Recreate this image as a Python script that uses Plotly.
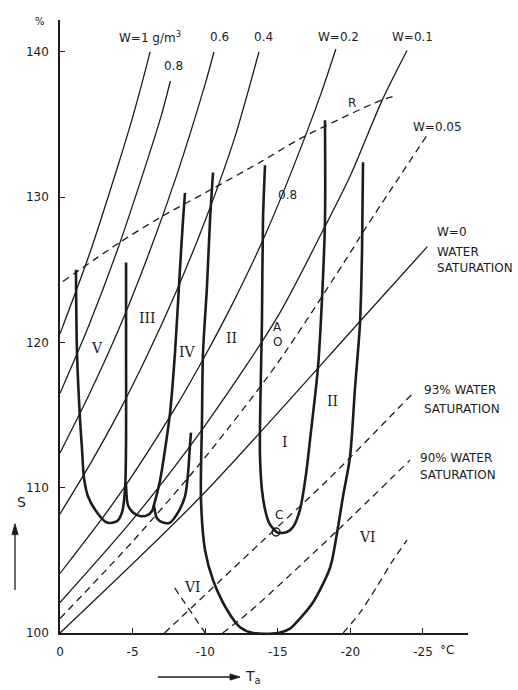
import plotly.graph_objects as go

FONT = "DejaVu Sans"
INK = "#1c1c1c"

# Lines of constant W (g/m3): temperature (deg C) vs supersaturation over ice (%)
w1_t = [0, -2, -4, -5, -6, -6.2]
w1_s = [120.6, 126.0, 132.2, 135.5, 139.2, 140.0]
w08_t = [0, -2, -4, -6, -7, -7.6]
w08_s = [116.5, 121.2, 126.5, 132.5, 135.7, 138.0]
w06_t = [0, -2, -4, -6, -8, -10, -10.6]
w06_s = [112.4, 116.4, 120.8, 125.8, 131.4, 137.8, 140.0]
w04_t = [0, -2, -4, -6, -8, -10, -12, -13.7]
w04_s = [108.2, 111.5, 115.1, 119.1, 123.5, 128.4, 134.0, 140.0]
w02_t = [0, -4, -8, -10, -12, -14, -16, -18, -19]
w02_s = [104.1, 109.4, 115.6, 119.1, 122.9, 127.1, 131.9, 137.2, 140.2]
w01_t = [0, -5, -10, -15, -18, -20, -22.2, -23.9]
w01_s = [102.1, 107.8, 114.3, 121.8, 127.5, 131.5, 136.7, 140.1]
w005_t = [0, -5, -10, -15, -20, -21, -25.3]
w005_s = [101.0, 106.3, 112.1, 118.6, 126.2, 127.8, 134.3]
w0_t = [0, -9.8, -20.7, -25.3]
w0_s = [100.0, 109.5, 121.5, 126.6]

# Fractions of water saturation
sat93_t = [-7.2, -13.8, -18.4, -24.3]
sat93_s = [100.0, 106.2, 110.5, 116.5]
sat90_t = [-11.2, -13.1, -19.15, -24.1]
sat90_s = [100.0, 101.5, 107.1, 111.9]

# Other dashed boundaries
r_t = [-0.2, -4.13, -6.89, -10.54, -13.77, -16.67, -22.18, -23.21]
r_s = [124.2, 126.9, 128.6, 130.6, 132.4, 134.1, 136.7, 137.0]
vi_left_t = [-7.9, -10.0]
vi_left_s = [103.1, 100.0]
vi_right_t = [-19.5, -20.66, -21.83, -22.93, -23.9]
vi_right_s = [100.0, 101.4, 103.2, 105.0, 106.4]

# Habit boundaries (heavy curves)
hab_a_t = [-1.10, -1.17, -1.38, -1.52, -1.65, -1.93, -2.55, -3.24, -3.93, -4.27, -4.48, -4.55, -4.55, -4.55]
hab_a_s = [125.0, 119.3, 114.7, 112.6, 110.7, 109.4, 108.3, 107.6, 107.7, 108.3, 109.9, 113.3, 119.5, 125.5]
hab_b_t = [-4.55, -4.68, -5.03, -5.51, -5.99, -6.34, -6.47, -6.89, -7.23, -7.58, -7.92, -8.26, -8.47, -8.61]
hab_b_s = [110.2, 108.8, 108.3, 108.05, 108.1, 108.4, 108.8, 110.5, 112.6, 115.15, 119.3, 125.0, 128.4, 130.3]
hab_c_t = [-6.47, -6.68, -7.09, -7.58, -8.13, -8.61, -8.82, -8.95, -9.02]
hab_c_s = [108.8, 107.9, 107.6, 107.6, 108.3, 109.4, 111.0, 112.9, 113.8]
hab_d_t = [-10.54, -10.33, -10.12, -9.85, -9.78, -9.71, -9.99, -10.54, -11.50, -12.40, -13.29,
           -15.01, -15.84, -16.53, -17.42, -18.60, -19.08, -19.49, -19.97, -20.32, -20.66, -20.80, -20.87]
hab_d_s = [131.7, 128.4, 123.8, 119.3, 114.7, 109.2, 105.7, 103.65, 101.6, 100.4, 100.0,
           100.0, 100.3, 101.0, 102.1, 104.5, 106.9, 109.4, 112.1, 116.9, 121.3, 126.2, 132.4]
hab_e_t = [-14.12, -13.98, -13.91, -13.77, -13.91, -14.12, -14.39, -14.67, -15.01, -15.63, -16.05,
           -16.53, -16.94, -17.22, -17.77, -18.04, -18.25, -18.25]
hab_e_s = [132.2, 128.4, 121.6, 112.4, 109.85, 108.5, 107.6, 107.2, 106.9, 106.95, 107.3,
           108.5, 110.9, 113.3, 118.3, 122.9, 128.4, 135.3]
point_c_t = [-14.88]
point_c_s = [106.95]

x_ticks = [0, -5, -10, -15, -20, -25]
x_tick_text = ["0", "-5", "-10", "-15", "-20", "-25"]
y_ticks = [100, 110, 120, 130, 140]
y_tick_text = ["100", "110", "120", "130", "140"]

fig = go.Figure()


def curve(t, s, width=1.3, dash=None, shape="spline"):
    line = dict(color=INK, width=width, shape=shape)
    if shape == "spline":
        line["smoothing"] = 0.8
    if dash:
        line["dash"] = dash
    fig.add_trace(go.Scatter(x=t, y=s, mode="lines", line=line, hoverinfo="skip", showlegend=False))


for t, s in [(w1_t, w1_s), (w08_t, w08_s), (w06_t, w06_s), (w04_t, w04_s),
             (w02_t, w02_s), (w01_t, w01_s), (w0_t, w0_s)]:
    curve(t, s)

DASH = "7px,5px"
curve(w005_t, w005_s, dash=DASH)
curve(sat93_t, sat93_s, dash=DASH)
curve(sat90_t, sat90_s, dash=DASH)
curve(r_t, r_s, dash=DASH)
curve(vi_left_t, vi_left_s, dash=DASH, shape="linear")
curve(vi_right_t, vi_right_s, dash=DASH)

for t, s in [(hab_a_t, hab_a_s), (hab_b_t, hab_b_s), (hab_c_t, hab_c_s),
             (hab_d_t, hab_d_s), (hab_e_t, hab_e_s)]:
    curve(t, s, width=2.6)

fig.add_trace(go.Scatter(x=point_c_t, y=point_c_s, mode="markers",
                         marker=dict(symbol="circle-open", size=8, color=INK, line=dict(width=1.4)),
                         hoverinfo="skip", showlegend=False))

TXT = dict(family=FONT, size=12, color=INK)
ROMAN = dict(family="DejaVu Serif", size=14, color=INK)

labels = [
    (-6.2, 141.0, "W=1 g/m<sup>3</sup>", TXT, "center"),
    (-7.8, 139.0, "0.8", TXT, "center"),
    (-11.0, 141.0, "0.6", TXT, "center"),
    (-14.0, 141.0, "0.4", TXT, "center"),
    (-19.15, 141.0, "W=0.2", TXT, "center"),
    (-24.25, 141.0, "W=0.1", TXT, "center"),
    (-20.1, 136.5, "R", TXT, "center"),
    (-26.0, 134.85, "W=0.05", TXT, "center"),
    (-15.7, 130.15, "0.8", TXT, "center"),
    (-25.8, 127.6, "W=0", TXT, "left"),
    (-25.8, 126.2, "WATER", TXT, "left"),
    (-25.8, 125.15, "SATURATION", TXT, "left"),
    (-24.9, 116.7, "93% WATER", TXT, "left"),
    (-24.9, 115.4, "SATURATION", TXT, "left"),
    (-24.65, 112.05, "90% WATER", TXT, "left"),
    (-24.65, 110.9, "SATURATION", TXT, "left"),
    (-15.0, 121.1, "A", TXT, "center"),
    (-15.0, 120.0, "O", TXT, "center"),
    (-15.1, 108.1, "C", TXT, "center"),
    (-2.55, 119.6, "V", ROMAN, "center"),
    (-6.05, 121.7, "III", ROMAN, "center"),
    (-8.75, 119.35, "IV", ROMAN, "center"),
    (-11.8, 120.3, "II", ROMAN, "center"),
    (-18.8, 116.0, "II", ROMAN, "center"),
    (-15.5, 113.15, "I", ROMAN, "center"),
    (-21.2, 106.6, "VI", ROMAN, "center"),
    (-9.1, 103.2, "VI", ROMAN, "center"),
]
for x, y, text, font, anchor in labels:
    fig.add_annotation(x=x, y=y, text=text, font=font, showarrow=False, xanchor=anchor, yanchor="middle")

# axis titles
fig.add_annotation(xref="paper", yref="paper", x=-0.066, y=1.01, text="%", showarrow=False,
                   font=dict(family=FONT, size=10, color=INK))
fig.add_annotation(xref="paper", yref="paper", x=-0.11, y=0.197, text="S", showarrow=False,
                   font=dict(family=FONT, size=14, color=INK))
fig.add_annotation(xref="paper", yref="paper", x=0.4485, y=-0.0715, text="T<sub>a</sub>", showarrow=False,
                   xanchor="left", yanchor="middle", font=dict(family=FONT, size=14, color=INK))
fig.add_annotation(xref="paper", yref="paper", x=0.97, y=-0.042, text="°C", showarrow=False,
                   font=dict(family=FONT, size=12, color=INK))

# arrows beside the axis titles, drawn as lines with small filled heads
arrow_line = dict(color=INK, width=1.3)
fig.add_shape(type="line", xref="paper", yref="paper", x0=-0.1103, y0=0.070, x1=-0.1103, y1=0.165,
              line=arrow_line)
fig.add_shape(type="path", xref="paper", yref="paper",
              path="M -0.1103,0.1785 L -0.1178,0.1605 L -0.1028,0.1605 Z",
              fillcolor=INK, line=dict(color=INK, width=0.8))
fig.add_shape(type="line", xref="paper", yref="paper", x0=0.240, y0=-0.0718, x1=0.425, y1=-0.0718,
              line=arrow_line)
fig.add_shape(type="path", xref="paper", yref="paper",
              path="M 0.4412,-0.0718 L 0.4167,-0.0667 L 0.4167,-0.0769 Z",
              fillcolor=INK, line=dict(color=INK, width=0.8))

fig.update_xaxes(range=[0, -28.1], showline=True, linecolor=INK, linewidth=1.6, ticks="inside",
                 ticklen=5, tickcolor=INK, tickvals=x_ticks, ticktext=x_tick_text, showgrid=False,
                 zeroline=False, tickfont=dict(family=FONT, size=12, color=INK), ticklabelstandoff=7)
fig.update_yaxes(range=[100, 142.2], showline=True, linecolor=INK, linewidth=1.6, ticks="inside",
                 ticklen=5, tickcolor=INK, tickvals=y_ticks, ticktext=y_tick_text, showgrid=False,
                 zeroline=False, tickfont=dict(family=FONT, size=12, color=INK), ticklabelstandoff=7)

fig.update_layout(width=518, height=690, margin=dict(l=60, r=50, t=20, b=57),
                  paper_bgcolor="white", plot_bgcolor="white")

fig.write_html("out.html")
